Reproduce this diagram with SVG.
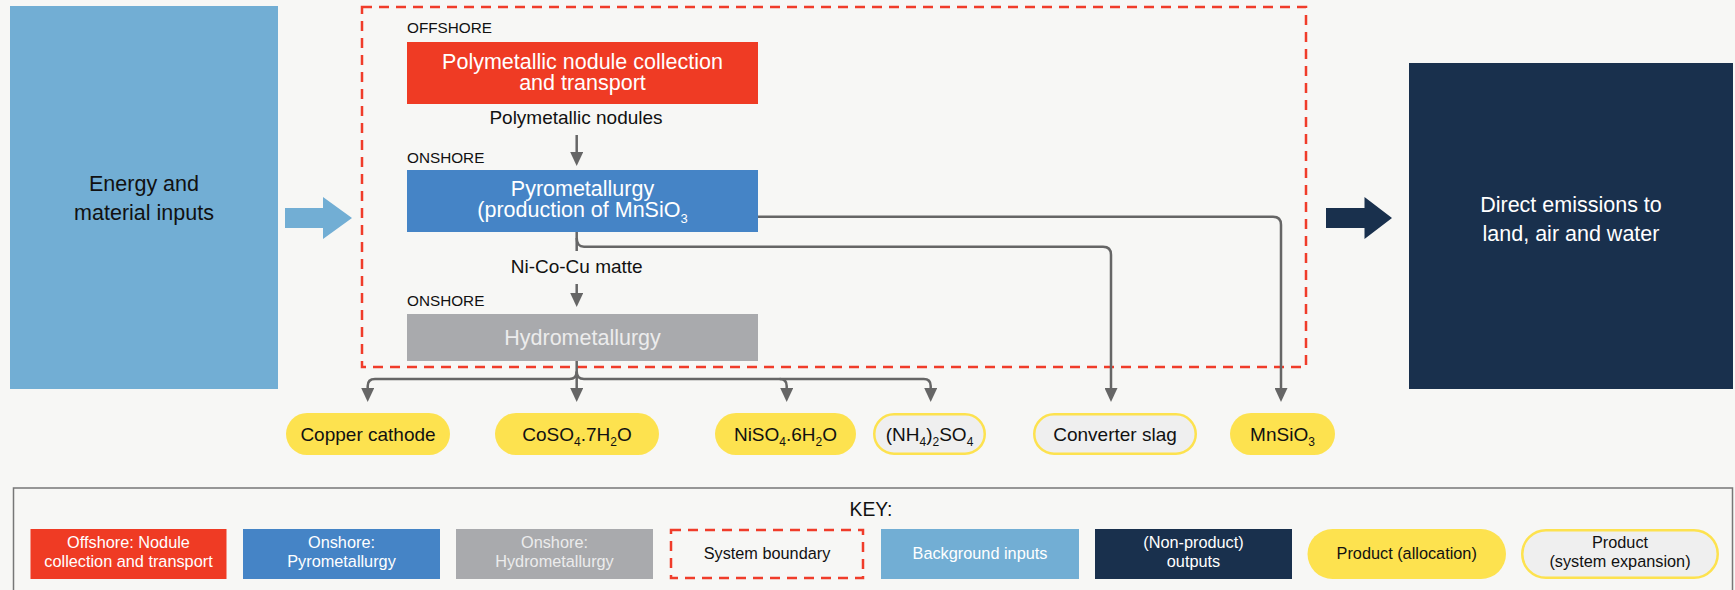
<svg xmlns="http://www.w3.org/2000/svg" width="1735" height="590" viewBox="0 0 1735 590">
<defs>
<style>
text{font-family:"Liberation Sans",Arial,sans-serif;}
.big{font-size:21.5px;text-anchor:middle;}
.lbl{font-size:19px;text-anchor:middle;fill:#111;}
.tag{font-size:15.3px;fill:#111;}
.pill{font-size:19px;text-anchor:middle;fill:#111;}
.key{font-size:16.3px;text-anchor:middle;}
.w{fill:#fff;}
.lg{fill:#ececec;}
.k{fill:#111;}
.con{fill:none;stroke:#666;stroke-width:2.5;}
.bnd{fill:none;stroke:#f03c2a;stroke-width:2.5;stroke-dasharray:10 7;}
.yel{fill:#fde24f;}
.exp{fill:#efefef;stroke:#fde24f;stroke-width:2.5;}
</style>
<marker id="ah" viewBox="0 0 14 13" refX="0" refY="6.5" markerWidth="14" markerHeight="13" markerUnits="userSpaceOnUse" orient="auto"><path d="M0,0 L14,6.5 L0,13 Z" fill="#666"/></marker>
</defs>
<rect x="0" y="0" width="1735" height="590" fill="#f7f7f5"/>

<g id="boundary"><rect class="bnd" x="362" y="7" width="944" height="360"/></g>

<g id="inputs">
<rect x="10" y="6" width="268" height="383" fill="#72aed4"/>
<text class="big k" x="144" y="190.5">Energy and</text>
<text class="big k" x="144" y="220">material inputs</text>
</g>
<g id="input-arrow"><polygon points="285,208 323,208 323,197 352,218 323,239 323,228 285,228" fill="#72aed4"/></g>

<g id="emissions">
<rect x="1409" y="63" width="324" height="326" fill="#19304d"/>
<text class="big w" x="1571" y="212">Direct emissions to</text>
<text class="big w" x="1571" y="240.5">land, air and water</text>
</g>
<g id="output-arrow"><polygon points="1326,208 1364.5,208 1364.5,197 1392,218 1364.5,239 1364.5,228 1326,228" fill="#19304d"/></g>

<g id="offshore">
<text class="tag" x="407" y="33.3">OFFSHORE</text>
<rect x="407" y="42" width="351" height="62" fill="#ef3b24"/>
<text class="big w" x="582.5" y="68.5">Polymetallic nodule collection</text>
<text class="big w" x="582.5" y="90">and transport</text>
</g>

<g id="pyro">
<text class="tag" x="407" y="162.7">ONSHORE</text>
<rect x="407" y="170" width="351" height="62" fill="#4584c6"/>
<text class="big w" x="582.5" y="195.7">Pyrometallurgy</text>
<text class="big w" x="582.5" y="217.3">(production of MnSiO<tspan font-size="13" dy="6">3</tspan></text>
</g>

<g id="hydro">
<text class="tag" x="407" y="306">ONSHORE</text>
<rect x="407" y="314" width="351" height="47" fill="#a9aaad"/>
<text class="big lg" x="582.5" y="345">Hydrometallurgy</text>
</g>

<g id="connectors">
<line class="con" x1="576.7" y1="135" x2="576.7" y2="152" marker-end="url(#ah)"/>
<text class="lbl" x="576" y="124">Polymetallic nodules</text>
<path class="con" d="M576.7,232 V251"/>
<line class="con" x1="576.7" y1="284" x2="576.7" y2="293" marker-end="url(#ah)"/>
<text class="lbl" x="576.7" y="273">Ni-Co-Cu matte</text>
<path class="con" d="M758,216.7 H1273 Q1281,216.7 1281,224.7 V388" marker-end="url(#ah)"/>
<path class="con" d="M576.7,238 Q576.7,246.7 584,246.7 H1103 Q1111,246.7 1111,254.7 V388" marker-end="url(#ah)"/>
<path class="con" d="M576.7,361 V388" marker-end="url(#ah)"/>
<path class="con" d="M576.7,371.5 Q576.7,379 569.5,379 H375 Q367.7,379 367.7,386 V388" marker-end="url(#ah)"/>
<path class="con" d="M576.7,371.5 Q576.7,379 584,379 H779.7 Q786.7,379 786.7,386 V388" marker-end="url(#ah)"/>
<path class="con" d="M779.7,379 H923.7 Q930.7,379 930.7,386 V388" marker-end="url(#ah)"/>
</g>

<g id="copper"><rect class="yel" x="286" y="413" width="164" height="42" rx="21"/><text class="pill" x="368" y="441">Copper cathode</text></g>
<g id="coso4"><rect class="yel" x="495" y="413" width="164" height="42" rx="21"/><text class="pill" x="577" y="441">CoSO<tspan font-size="12" dy="5">4</tspan><tspan dy="-5">.7H</tspan><tspan font-size="12" dy="5">2</tspan><tspan dy="-5">O</tspan></text></g>
<g id="niso4"><rect class="yel" x="715" y="413" width="141" height="42" rx="21"/><text class="pill" x="785.5" y="441">NiSO<tspan font-size="12" dy="5">4</tspan><tspan dy="-5">.6H</tspan><tspan font-size="12" dy="5">2</tspan><tspan dy="-5">O</tspan></text></g>
<g id="nh4so4"><rect class="exp" x="874.25" y="414.25" width="110.5" height="39.5" rx="19.75"/><text class="pill" x="929.5" y="441">(NH<tspan font-size="12" dy="5">4</tspan><tspan dy="-5">)</tspan><tspan font-size="12" dy="5">2</tspan><tspan dy="-5">SO</tspan><tspan font-size="12" dy="5">4</tspan></text></g>
<g id="slag"><rect class="exp" x="1034.25" y="414.25" width="161.5" height="39.5" rx="19.75"/><text class="pill" x="1115" y="441">Converter slag</text></g>
<g id="mnsio3"><rect class="yel" x="1230" y="413" width="105" height="42" rx="21"/><text class="pill" x="1282.5" y="441">MnSiO<tspan font-size="12" dy="5">3</tspan></text></g>

<g id="legend">
<rect x="13.5" y="488" width="1719" height="120" fill="none" stroke="#777" stroke-width="1.5"/>
<text x="871" y="516" font-size="19.3" text-anchor="middle" fill="#111">KEY:</text>
<rect x="30.5" y="529" width="196" height="50" fill="#ef3b24"/>
<text class="key w" x="128.5" y="547.7">Offshore: Nodule</text>
<text class="key w" x="128.5" y="566.7">collection and transport</text>
<rect x="243" y="529" width="197" height="50" fill="#4584c6"/>
<text class="key w" x="341.5" y="547.7">Onshore:</text>
<text class="key w" x="341.5" y="566.7">Pyrometallurgy</text>
<rect x="456" y="529" width="197" height="50" fill="#a9aaad"/>
<text class="key lg" x="554.5" y="547.7">Onshore:</text>
<text class="key lg" x="554.5" y="566.7">Hydrometallurgy</text>
<rect class="bnd" x="671" y="530" width="192" height="48"/>
<text class="key k" x="767" y="559.3">System boundary</text>
<rect x="881" y="529" width="198" height="50" fill="#72aed4"/>
<text class="key w" x="980" y="559.3">Background inputs</text>
<rect x="1095" y="529" width="197" height="50" fill="#19304d"/>
<text class="key w" x="1193.5" y="547.7">(Non-product)</text>
<text class="key w" x="1193.5" y="566.7">outputs</text>
<rect class="yel" x="1307.5" y="529" width="198.5" height="50" rx="25"/>
<text class="key k" x="1406.7" y="559.3">Product (allocation)</text>
<rect class="exp" x="1522.25" y="530.25" width="195.5" height="47.5" rx="23.75"/>
<text class="key k" x="1620" y="547.7">Product</text>
<text class="key k" x="1620" y="566.7">(system expansion)</text>
</g>
</svg>
